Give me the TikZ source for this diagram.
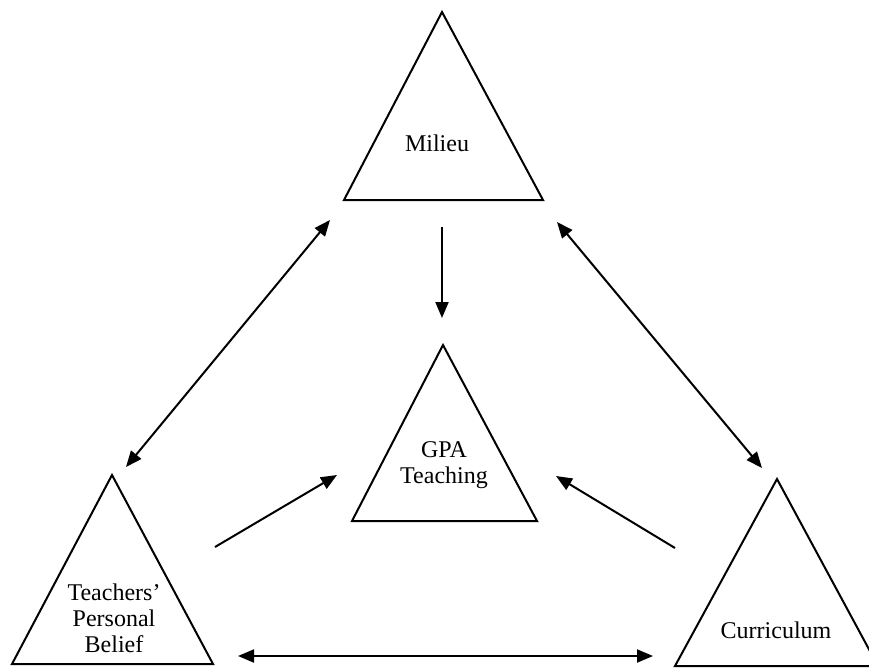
\documentclass[tikz,border=0pt]{standalone}
\usepackage{fontspec}
\setmainfont{Liberation Serif}
\usetikzlibrary{arrows.meta}
\begin{document}
\begin{tikzpicture}[x=1pt,y=-1pt,
  tri/.style={draw=black,line width=2pt,line join=miter},
  lbl/.style={font=\fontsize{24}{26}\selectfont,align=center,inner sep=0pt},
  arr/.style={draw=black,line width=2pt,-{Triangle[length=16pt,width=13pt]}},
  darr/.style={draw=black,line width=2pt,{Triangle[length=16pt,width=13pt]}-{Triangle[length=16pt,width=13pt]}}]
\useasboundingbox[fill=white] (0,0) rectangle (869,667);
% triangles
\draw[tri] (442,12) -- (543,200) -- (344,200) -- cycle;
\draw[tri] (443,345) -- (537,521) -- (352,521) -- cycle;
\draw[tri] (112,475) -- (213,664) -- (12,664) -- cycle;
\begin{scope}
\clip (0,0) rectangle (869,667);
\draw[tri] (777,479) -- (878,666) -- (675,666) -- cycle;
\end{scope}
% labels
\node[lbl] (milieu) at (437,143) {Milieu};
\node[lbl] (gpa) at (444,465) {GPA\\Teaching};
\node[lbl] (tpb) at (114,618) {Teachers’\\Personal\\Belief};
\node[lbl] (cur) at (776,630) {Curriculum};
% connector end points
\coordinate (m1) at (442,227);
\coordinate (m2) at (442,318);
\coordinate (l1) at (330,220);
\coordinate (l2) at (126,467);
\coordinate (r1) at (557,222);
\coordinate (r2) at (762,468);
\coordinate (a1) at (215,547);
\coordinate (a2) at (337,475);
\coordinate (b1) at (675,548);
\coordinate (b2) at (556,476);
\coordinate (c1) at (238,656);
\coordinate (c2) at (653,656);
% connectors
\draw[arr] (m1) -- (m2);
\draw[darr] (l2) -- (l1);
\draw[darr] (r1) -- (r2);
\draw[arr] (a1) -- (a2);
\draw[arr] (b1) -- (b2);
\draw[darr] (c1) -- (c2);
\end{tikzpicture}
\end{document}
